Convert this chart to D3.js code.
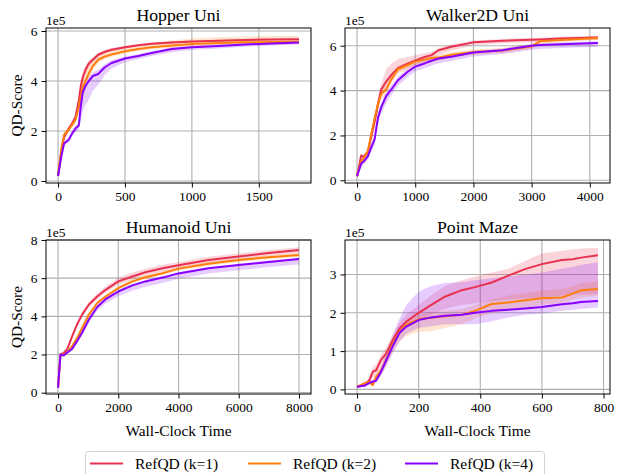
<!DOCTYPE html>
<html><head><meta charset="utf-8">
<script src="https://cdn.jsdelivr.net/npm/d3@7"></script>
<style>body{margin:0;background:#fff}svg{display:block}text{font-family:"Liberation Serif","Times New Roman",serif;fill:#000}</style>
</head><body><svg id="c" width="618" height="474"></svg>
<script>
const seriesNames = ["RefQD (k=1)", "RefQD (k=2)", "RefQD (k=4)"];
const seriesColors = ["#e8304f", "#ff7f0e", "#8800ff"];

// Hopper Uni (values in 1e5)
const hopperT = [0,25,45,80,105,130,155,170,185,205,230,260,300,350,400,500,600,700,850,1000,1200,1400,1600,1800];
const hopperK1 = [0.2,1.2,1.75,2.1,2.3,2.55,3.2,3.8,4.15,4.45,4.7,4.85,5.05,5.17,5.25,5.35,5.43,5.49,5.54,5.58,5.61,5.64,5.66,5.67];
const hopperK1Lo = [0.18,1.1,1.65,2.0,2.2,2.4,2.9,3.5,3.9,4.25,4.55,4.75,4.95,5.09,5.18,5.29,5.38,5.44,5.5,5.54,5.57,5.6,5.62,5.63];
const hopperK1Hi = [0.22,1.3,1.85,2.2,2.4,2.7,3.45,4.0,4.35,4.6,4.82,4.95,5.12,5.24,5.32,5.41,5.48,5.54,5.59,5.62,5.65,5.68,5.7,5.71];
const hopperK2 = [0.2,1.3,1.85,2.05,2.25,2.45,2.95,3.4,3.75,4.0,4.3,4.6,4.85,4.98,5.06,5.19,5.28,5.35,5.42,5.48,5.52,5.55,5.56,5.57];
const hopperK2Lo = [0.18,1.15,1.7,1.95,2.15,2.3,2.7,3.1,3.45,3.75,4.1,4.45,4.72,4.88,4.97,5.1,5.2,5.27,5.33,5.38,5.42,5.45,5.46,5.47];
const hopperK2Hi = [0.22,1.45,1.95,2.15,2.35,2.6,3.3,3.8,4.15,4.4,4.65,4.9,5.12,5.2,5.25,5.33,5.42,5.52,5.62,5.7,5.75,5.78,5.8,5.8];
const hopperK4 = [0.2,1.0,1.5,1.65,1.9,2.1,2.22,3.0,3.55,3.8,4.0,4.2,4.28,4.55,4.72,4.9,5.0,5.12,5.28,5.35,5.4,5.46,5.5,5.54];
const hopperK4Lo = [0.18,0.9,1.4,1.55,1.8,1.95,2.05,2.4,2.8,3.05,3.25,3.6,3.85,4.25,4.5,4.75,4.88,5.0,5.15,5.24,5.3,5.37,5.42,5.47];
const hopperK4Hi = [0.22,1.1,1.6,1.75,2.0,2.2,2.35,3.2,3.7,3.95,4.15,4.35,4.45,4.68,4.83,4.98,5.08,5.2,5.35,5.42,5.47,5.52,5.56,5.6];

// Walker2D Uni
const walkerT = [0,70,115,185,240,300,360,415,500,590,700,870,1000,1160,1280,1400,1620,2000,2500,3000,3150,3500,4140];
const walkerK1 = [0.18,1.1,1.05,1.25,1.9,2.6,3.4,4.05,4.4,4.7,5.0,5.2,5.33,5.5,5.58,5.8,5.95,6.15,6.22,6.27,6.28,6.32,6.37];
const walkerK1Lo = [0.15,0.95,0.95,1.1,1.7,2.35,3.1,3.75,4.15,4.45,4.8,5.0,5.15,5.3,5.4,5.6,5.78,6.02,6.1,6.15,6.18,6.22,6.27];
const walkerK1Hi = [0.21,1.2,1.15,1.4,2.1,2.8,3.65,4.3,4.95,5.2,5.4,5.5,5.57,5.68,5.72,5.9,6.05,6.23,6.3,6.35,6.36,6.4,6.45];
const walkerK2 = [0.18,0.85,0.98,1.3,2.0,2.75,3.4,3.85,4.05,4.5,4.95,5.14,5.29,5.38,5.45,5.47,5.6,5.72,5.79,5.97,6.2,6.25,6.34];
const walkerK2Lo = [0.15,0.75,0.88,1.15,1.8,2.5,3.15,3.6,3.85,4.3,4.75,4.95,5.12,5.22,5.3,5.33,5.47,5.6,5.68,5.85,6.08,6.15,6.25];
const walkerK2Hi = [0.21,0.95,1.08,1.45,2.2,2.95,3.6,4.05,4.25,4.7,5.1,5.28,5.42,5.5,5.56,5.6,5.72,5.83,5.9,6.08,6.3,6.35,6.43];
const walkerK4 = [0.18,0.75,0.84,1.07,1.45,1.81,2.8,3.25,3.75,4.05,4.45,4.84,5.07,5.21,5.33,5.43,5.51,5.7,5.8,6.0,6.03,6.07,6.12];
const walkerK4Lo = [0.1,0.55,0.7,0.9,1.25,1.55,2.5,2.95,3.45,3.8,4.2,4.6,4.85,5.0,5.12,5.22,5.32,5.52,5.63,5.82,5.85,5.9,5.95];
const walkerK4Hi = [0.25,0.9,0.98,1.2,1.6,2.0,3.0,3.45,3.95,4.25,4.62,5.0,5.2,5.32,5.43,5.52,5.6,5.78,5.88,6.08,6.1,6.14,6.2];

// Humanoid Uni
const humanoidT = [0,80,190,300,470,630,800,1020,1300,1580,2000,2470,2900,3470,4000,5000,6000,7000,8000];
const humanoidK1 = [0.26,2.0,2.09,2.26,2.96,3.57,4.09,4.61,5.04,5.39,5.83,6.09,6.31,6.52,6.68,6.95,7.13,7.32,7.48];
const humanoidK1Lo = [0.24,1.95,2.03,2.18,2.85,3.45,3.97,4.48,4.9,5.25,5.65,5.92,6.14,6.36,6.53,6.8,6.98,7.17,7.33];
const humanoidK1Hi = [0.28,2.05,2.15,2.34,3.05,3.68,4.22,4.76,5.2,5.56,6.02,6.3,6.5,6.7,6.85,7.12,7.3,7.48,7.62];
const humanoidK2 = [0.26,2.0,2.0,2.1,2.45,2.86,3.39,4.08,4.7,5.04,5.48,5.83,6.05,6.26,6.5,6.75,6.95,7.1,7.22];
const humanoidK2Lo = [0.24,1.95,1.95,2.04,2.38,2.78,3.3,3.98,4.6,4.95,5.38,5.73,5.95,6.16,6.4,6.65,6.85,7.0,7.12];
const humanoidK2Hi = [0.28,2.05,2.05,2.16,2.52,2.94,3.48,4.18,4.8,5.13,5.58,5.93,6.15,6.36,6.6,6.85,7.05,7.2,7.32];
const humanoidK4 = [0.26,2.0,1.95,2.1,2.3,2.7,3.15,3.82,4.49,4.9,5.3,5.62,5.83,6.03,6.25,6.52,6.69,6.85,7.0];
const humanoidK4Lo = [0.24,1.95,1.9,2.02,2.2,2.58,3.0,3.65,4.3,4.68,5.05,5.35,5.55,5.75,5.97,6.25,6.42,6.58,6.72];
const humanoidK4Hi = [0.28,2.05,2.0,2.15,2.36,2.76,3.22,3.9,4.58,4.98,5.38,5.7,5.9,6.1,6.32,6.58,6.76,6.92,7.07];

// Point Maze
const mazeT = [0,25,40,51,62,78,95,116,138,160,200,240,285,340,383,437,491,545,600,665,700,727,782];
const mazeK1 = [0.07,0.11,0.24,0.46,0.5,0.77,0.94,1.29,1.59,1.77,2.0,2.2,2.42,2.59,2.67,2.79,2.97,3.14,3.27,3.38,3.4,3.44,3.5];
const mazeK1Lo = [0.06,0.08,0.15,0.3,0.35,0.6,0.8,1.1,1.4,1.6,1.8,1.95,2.1,2.2,2.25,2.3,2.35,2.38,2.4,2.45,2.47,2.48,2.5];
const mazeK1Hi = [0.08,0.14,0.32,0.58,0.65,0.92,1.1,1.45,1.75,1.95,2.2,2.45,2.7,2.85,2.95,3.05,3.15,3.35,3.55,3.62,3.65,3.68,3.7];
const mazeK2 = [0.07,0.16,0.2,0.11,0.33,0.49,0.78,1.18,1.5,1.69,1.83,1.87,1.91,1.95,2.05,2.23,2.27,2.33,2.38,2.4,2.5,2.59,2.62];
const mazeK2Lo = [0.06,0.12,0.15,0.08,0.25,0.38,0.62,0.98,1.25,1.4,1.5,1.52,1.6,1.7,1.85,2.0,2.05,2.12,2.2,2.25,2.35,2.4,2.45];
const mazeK2Hi = [0.08,0.2,0.25,0.2,0.42,0.6,0.9,1.3,1.6,1.8,1.95,2.0,2.05,2.1,2.2,2.35,2.45,2.52,2.58,2.62,2.7,2.78,2.82];
const mazeK4 = [0.07,0.1,0.17,0.2,0.23,0.46,0.76,1.13,1.48,1.64,1.81,1.88,1.92,1.95,2.0,2.05,2.08,2.11,2.15,2.22,2.25,2.28,2.31];
const mazeK4Lo = [0.06,0.08,0.13,0.15,0.17,0.35,0.6,0.95,1.25,1.45,1.6,1.65,1.7,1.7,1.7,1.78,1.88,1.95,1.98,2.05,2.08,2.1,2.14];
const mazeK4Hi = [0.08,0.12,0.22,0.26,0.3,0.6,0.95,1.4,1.85,2.2,2.55,2.7,2.78,2.8,2.85,2.9,2.95,3.0,3.05,3.15,3.2,3.25,3.32];

// tick labels
const hopperXTicks = [0,500,1000,1500];
const walkerXTicks = [0,1000,2000,3000,4000];
const humanoidXTicks = [0,2000,4000,6000,8000];
const mazeXTicks = [0,200,400,600,800];
const hopperYTicks = [0,2,4,6];
const walkerYTicks = [0,2,4,6];
const humanoidYTicks = [0,2,4,6,8];
const mazeYTicks = [0,1,2,3];

const panels = [
  {title:"Hopper Uni", t:hopperT, mean:[hopperK1,hopperK2,hopperK4], lo:[hopperK1Lo,hopperK2Lo,hopperK4Lo], hi:[hopperK1Hi,hopperK2Hi,hopperK4Hi],
   xd:[-90,1890], yd:[-0.08,6.12], xt:hopperXTicks, yt:hopperYTicks, box:[46,28,311,183], ylab:true, xlab:false},
  {title:"Walker2D Uni", t:walkerT, mean:[walkerK1,walkerK2,walkerK4], lo:[walkerK1Lo,walkerK2Lo,walkerK4Lo], hi:[walkerK1Hi,walkerK2Hi,walkerK4Hi],
   xd:[-207,4347], yd:[-0.12,6.79], xt:walkerXTicks, yt:walkerYTicks, box:[345,28,610,183], ylab:false, xlab:false},
  {title:"Humanoid Uni", t:humanoidT, mean:[humanoidK1,humanoidK2,humanoidK4], lo:[humanoidK1Lo,humanoidK2Lo,humanoidK4Lo], hi:[humanoidK1Hi,humanoidK2Hi,humanoidK4Hi],
   xd:[-400,8400], yd:[-0.07,8.0], xt:humanoidXTicks, yt:humanoidYTicks, box:[46,240,311,394], ylab:true, xlab:true},
  {title:"Point Maze", t:mazeT, mean:[mazeK1,mazeK2,mazeK4], lo:[mazeK1Lo,mazeK2Lo,mazeK4Lo], hi:[mazeK1Hi,mazeK2Hi,mazeK4Hi],
   xd:[-39,821], yd:[-0.12,3.9], xt:mazeXTicks, yt:mazeYTicks, box:[345,240,610,394], ylab:false, xlab:true}
];

const svg = d3.select("#c");
svg.append("rect").attr("width",618).attr("height",474).attr("fill","#fff");

panels.forEach((p,pi)=>{
  const [x0,y0,x1,y1] = p.box;
  const x = d3.scaleLinear().domain(p.xd).range([x0,x1]);
  const y = d3.scaleLinear().domain(p.yd).range([y1,y0]);
  const g = svg.append("g");
  const clipId = "clip"+pi;
  g.append("clipPath").attr("id",clipId).append("rect").attr("x",x0).attr("y",y0).attr("width",x1-x0).attr("height",y1-y0);
  // grid
  g.append("g").selectAll("line").data(p.xt).join("line")
    .attr("x1",d=>x(d)).attr("x2",d=>x(d)).attr("y1",y0).attr("y2",y1)
    .attr("stroke","#b0b0b0").attr("stroke-width",1.1);
  g.append("g").selectAll("line").data(p.yt).join("line")
    .attr("y1",d=>y(d)).attr("y2",d=>y(d)).attr("x1",x0).attr("x2",x1)
    .attr("stroke","#b0b0b0").attr("stroke-width",1.1);
  const plot = g.append("g").attr("clip-path",`url(#${clipId})`);
  // bands
  p.mean.forEach((m,si)=>{
    const area = d3.area().x((d,i)=>x(p.t[i])).y0((d,i)=>y(p.lo[si][i])).y1((d,i)=>y(p.hi[si][i]));
    plot.append("path").attr("d",area(m)).attr("fill",seriesColors[si]).attr("fill-opacity",0.2).attr("stroke","none");
  });
  p.mean.forEach((m,si)=>{
    const line = d3.line().x((d,i)=>x(p.t[i])).y(d=>y(d));
    plot.append("path").attr("d",line(m)).attr("fill","none").attr("stroke",seriesColors[si]).attr("stroke-width",2).attr("stroke-linejoin","round");
  });
  // axes
  const xa = d3.axisBottom(x).tickValues(p.xt).tickSize(4.5).tickPadding(4).tickFormat(d3.format("d"));
  const ya = d3.axisLeft(y).tickValues(p.yt).tickSize(4.5).tickPadding(4).tickFormat(d3.format("d"));
  const gx = g.append("g").attr("transform",`translate(0,${y1})`).call(xa);
  const gy = g.append("g").attr("transform",`translate(${x0},0)`).call(ya);
  [gx,gy].forEach(a=>{
    a.select(".domain").remove();
    a.selectAll(".tick line").attr("stroke","#000").attr("stroke-width",1);
    a.selectAll(".tick text").attr("font-size",13.5).attr("font-family","Liberation Serif").attr("fill","#000");
  });
  // spines
  g.append("rect").attr("x",x0).attr("y",y0).attr("width",x1-x0).attr("height",y1-y0)
    .attr("fill","none").attr("stroke","#000").attr("stroke-width",1);
  // offset
  g.append("text").attr("x",x0).attr("y",y0-3).attr("font-size",13.5).text("1e5");
  // title
  g.append("text").attr("x",(x0+x1)/2).attr("y",y0-7).attr("text-anchor","middle").attr("font-size",17.7).text(p.title);
  if(p.ylab){
    g.append("text").attr("transform",`translate(${x0-24},${(y0+y1)/2}) rotate(-90)`).attr("text-anchor","middle").attr("font-size",15.3).text("QD-Score");
  }
  if(p.xlab){
    g.append("text").attr("x",(x0+x1)/2).attr("y",y1+42).attr("text-anchor","middle").attr("font-size",15.4).text("Wall-Clock Time");
  }
});

// legend
const lg = svg.append("g");
lg.append("rect").attr("x",85.5).attr("y",451.5).attr("width",459).attr("height",34).attr("rx",3)
  .attr("fill","#fff").attr("stroke","#d0d0d0").attr("stroke-width",1);
const legX = [90,248,405];
seriesNames.forEach((n,i)=>{
  lg.append("line").attr("x1",legX[i]).attr("x2",legX[i]+33).attr("y1",463.5).attr("y2",463.5).attr("stroke",seriesColors[i]).attr("stroke-width",2);
  lg.append("text").attr("x",legX[i]+45).attr("y",468.5).attr("font-size",15.5).text(n);
});
</script></body></html>
